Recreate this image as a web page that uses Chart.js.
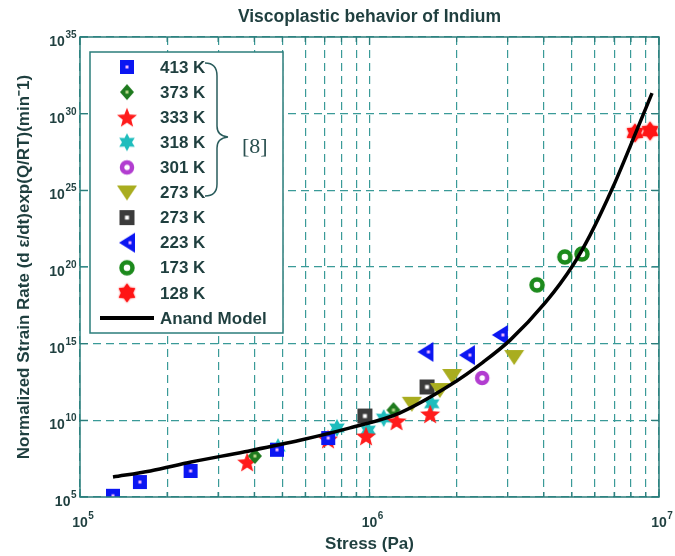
<!DOCTYPE html>
<html>
<head>
<meta charset="utf-8">
<script src="https://cdn.jsdelivr.net/npm/chart.js@4.4.1/dist/chart.umd.min.js"></script>
<style>
  html, body { margin: 0; padding: 0; background: #fff; }
</style>
</head>
<body>
<canvas id="indiumChart" width="675" height="556"></canvas>
<script>
// axis ticks
var stressTicks = [1e5, 2e5, 3e5, 4e5, 5e5, 6e5, 7e5, 8e5, 9e5,
                   1e6, 2e6, 3e6, 4e6, 5e6, 6e6, 7e6, 8e6, 9e6, 1e7];
var rateTicks = [1e5, 1e10, 1e15, 1e20, 1e25, 1e30, 1e35];

// measured creep points: stress (Pa) and normalized strain rate (1/min)
var s413 = [1.30e5, 1.61e5, 2.41e5, 4.79e5, 7.2e5];
var r413 = [1.2e5, 9.5e5, 5.0e6, 1.2e8, 7.0e8];
var s373 = [4.02e5, 1.21e6];
var r373 = [4.7e7, 4.7e10];
var s333 = [3.78e5, 7.19e5, 9.73e5, 1.24e6, 1.62e6];
var r333 = [1.9e7, 6.0e8, 9.5e8, 9.1e9, 2.6e10];
var s318 = [4.83e5, 7.72e5, 9.89e5, 1.12e6, 1.64e6];
var r318 = [1.8e8, 3.2e9, 2.3e9, 1.4e10, 1.2e11];
var s301 = [2.45e6];
var r301 = [5.8e12];
var s273 = [1.40e6, 1.75e6, 1.93e6, 3.16e6];
var r273 = [1.2e11, 9.5e11, 7.8e12, 1.35e14];
var s273b = [9.64e5, 1.58e6];
var r273b = [1.9e10, 1.5e12];
var s223 = [1.56e6, 2.17e6, 2.82e6];
var r223 = [2.9e14, 1.8e14, 3.7e15];
var s173 = [3.79e6, 4.73e6, 5.42e6];
var r173 = [6.8e18, 4.5e20, 7.1e20];
var s128 = [8.26e6, 9.31e6];
var r128 = [5.5e28, 7.4e28];

// Anand model curve
var modelStress = [1.30e5, 1.75e5, 2.42e5, 3.71e5, 5.75e5, 8.57e5, 1.27e6, 1.90e6,
                   2.47e6, 3.06e6, 4.04e6, 5.05e6, 5.78e6, 6.94e6, 8.39e6, 9.46e6];
var modelRate = [2.0e6, 5.0e6, 1.9e7, 9.0e7, 5.0e8, 3.2e9, 3.0e10, 2.0e12,
                 6.3e13, 1.7e15, 4.5e17, 1.35e20, 1.2e22, 1.7e25, 8.7e28, 2.2e31];

var textColor = '#1f3f3f';
var gridColor = '#3a9a98';
var boxColor = '#2b7d7b';
var sans = '"Liberation Sans", Arial, sans-serif';

// marker images (MATLAB-like thick markers)
function marker(w, h, paint) {
  var c = document.createElement('canvas');
  c.width = w; c.height = h;
  paint(c.getContext('2d'), w / 2, h / 2);
  return c;
}
function starPath(g, cx, cy, n, ro, ri) {
  g.beginPath();
  for (var i = 0; i < 2 * n; i++) {
    var r = i % 2 ? ri : ro;
    var a = -Math.PI / 2 + i * Math.PI / n;
    g.lineTo(cx + r * Math.cos(a), cy + r * Math.sin(a));
  }
  g.closePath();
}
function dot(g, cx, cy, color, s) {
  g.fillStyle = color;
  g.fillRect(cx - s / 2, cy - s / 2, s, s);
}

var mk413 = marker(16, 16, function (g, cx, cy) {
  g.fillStyle = '#0b16f2'; g.fillRect(1, 1, 14, 14); dot(g, cx, cy, '#f2b8ff', 3);
});
var mk373 = marker(16, 18, function (g, cx, cy) {
  g.fillStyle = '#1e7a1e';
  g.beginPath(); g.moveTo(cx, 1); g.lineTo(15, cy); g.lineTo(cx, 17); g.lineTo(1, cy); g.closePath(); g.fill();
  dot(g, cx, cy, '#b9d98a', 3);
});
var mk333 = marker(22, 22, function (g, cx, cy) {
  g.fillStyle = '#ff1c1c'; starPath(g, cx, cy + 1, 5, 10.5, 4.5); g.fill();
});
var mk318 = marker(20, 20, function (g, cx, cy) {
  g.fillStyle = '#1fbdbd'; starPath(g, cx, cy, 6, 9, 5); g.fill();
});
var mk301 = marker(18, 18, function (g, cx, cy) {
  g.strokeStyle = '#b23dd0'; g.lineWidth = 4.5;
  g.beginPath(); g.arc(cx, cy, 5, 0, 2 * Math.PI); g.stroke();
});
var mk273 = marker(22, 18, function (g, cx, cy) {
  g.fillStyle = '#a9ad1f';
  g.beginPath(); g.moveTo(1, 2); g.lineTo(21, 2); g.lineTo(cx, 17); g.closePath(); g.fill();
});
var mk273b = marker(17, 17, function (g, cx, cy) {
  g.fillStyle = '#3b3b3b'; g.fillRect(1, 1, 15, 15); dot(g, cx, cy, '#ffffff', 4);
});
var mk223 = marker(18, 22, function (g, cx, cy) {
  g.fillStyle = '#0b16f2';
  g.beginPath(); g.moveTo(1, cy); g.lineTo(17, 1); g.lineTo(17, 21); g.closePath(); g.fill();
  dot(g, cx + 3, cy, '#f2b8ff', 3);
});
var mk173 = marker(18, 18, function (g, cx, cy) {
  g.strokeStyle = '#1c8a1c'; g.lineWidth = 4.5;
  g.beginPath(); g.arc(cx, cy, 5.5, 0, 2 * Math.PI); g.stroke();
});
var mk128 = marker(22, 22, function (g, cx, cy) {
  g.fillStyle = '#ff1414'; g.shadowColor = '#ff1414'; g.shadowBlur = 2;
  starPath(g, cx, cy, 6, 9.5, 6); g.fill();
});

function pairs(xs, ys) {
  return xs.map(function (x, i) { return { x: x, y: ys[i] }; });
}
function pointSet(label, xs, ys, img) {
  return { label: label, data: pairs(xs, ys), pointStyle: img, pointRadius: 8,
           showLine: false, order: 1 };
}

var datasets = [
  pointSet('413 K', s413, r413, mk413),
  pointSet('373 K', s373, r373, mk373),
  pointSet('333 K', s333, r333, mk333),
  pointSet('318 K', s318, r318, mk318),
  pointSet('301 K', s301, r301, mk301),
  pointSet('273 K', s273, r273, mk273),
  pointSet('273 K', s273b, r273b, mk273b),
  pointSet('223 K', s223, r223, mk223),
  pointSet('173 K', s173, r173, mk173),
  pointSet('128 K', s128, r128, mk128),
  { label: 'Anand Model', data: pairs(modelStress, modelRate), showLine: true,
    borderColor: '#000', borderWidth: 3.5, pointRadius: 0,
    cubicInterpolationMode: 'monotone', order: 0 }
];

function isDecade(v) {
  var l = Math.log10(v);
  return Math.abs(l - Math.round(l)) < 1e-9;
}

// "10" with a raised exponent
function drawPower(ctx, exp, x, y, align) {
  ctx.font = 'bold 14px ' + sans;
  var wb = ctx.measureText('10').width;
  ctx.font = 'bold 10px ' + sans;
  var we = ctx.measureText(String(exp)).width;
  var left = align === 'right' ? x - wb - we : x - wb / 2;
  ctx.textAlign = 'left';
  ctx.textBaseline = 'alphabetic';
  ctx.font = 'bold 14px ' + sans;
  ctx.fillText('10', left, y);
  ctx.font = 'bold 10px ' + sans;
  ctx.fillText(String(exp), left + wb + 0.5, y - 8);
}

var decorations = {
  id: 'decorations',
  afterDraw: function (chart) {
    var ctx = chart.ctx, a = chart.chartArea;
    var xs = chart.scales.x, ys = chart.scales.y;
    ctx.save();

    // frame and inward ticks
    ctx.strokeStyle = boxColor;
    ctx.lineWidth = 1.5;
    ctx.strokeRect(a.left, a.top, a.right - a.left, a.bottom - a.top);
    ctx.lineWidth = 1.2;
    stressTicks.forEach(function (v) {
      var px = xs.getPixelForValue(v);
      var len = isDecade(v) ? 8 : 5;
      ctx.beginPath();
      ctx.moveTo(px, a.top); ctx.lineTo(px, a.top + len);
      ctx.moveTo(px, a.bottom); ctx.lineTo(px, a.bottom - len);
      ctx.stroke();
    });
    rateTicks.forEach(function (v) {
      var py = ys.getPixelForValue(v);
      ctx.beginPath();
      ctx.moveTo(a.left, py); ctx.lineTo(a.left + 8, py);
      ctx.moveTo(a.right, py); ctx.lineTo(a.right - 8, py);
      ctx.stroke();
    });

    // tick labels
    ctx.fillStyle = textColor;
    stressTicks.forEach(function (v) {
      if (!isDecade(v)) return;
      drawPower(ctx, Math.round(Math.log10(v)), xs.getPixelForValue(v), a.bottom + 30, 'center');
    });
    rateTicks.forEach(function (v) {
      drawPower(ctx, Math.round(Math.log10(v)), a.left - 4, ys.getPixelForValue(v) + 9, 'right');
    });

    // titles
    ctx.textAlign = 'center';
    ctx.textBaseline = 'middle';
    ctx.font = 'bold 17.5px ' + sans;
    ctx.fillText('Viscoplastic behavior of Indium', (a.left + a.right) / 2, 17);
    ctx.font = 'bold 17px ' + sans;
    ctx.fillText('Stress (Pa)', (a.left + a.right) / 2, 544);
    ctx.save();
    ctx.translate(24, (a.top + a.bottom) / 2);
    ctx.rotate(-Math.PI / 2);
    ctx.font = 'bold 17px ' + sans;
    ctx.fillText('Normalized Strain Rate (d \u03B5/dt)exp(Q/RT)(min\u207B1)', 0, 0);
    ctx.restore();

    // legend
    var lx = 90, ly = 52, lw = 193, lh = 281;
    ctx.fillStyle = '#fff';
    ctx.fillRect(lx, ly, lw, lh);
    ctx.strokeStyle = boxColor;
    ctx.lineWidth = 1.5;
    ctx.strokeRect(lx, ly, lw, lh);
    ctx.font = 'bold 17px ' + sans;
    ctx.textAlign = 'left';
    ctx.textBaseline = 'middle';
    chart.data.datasets.forEach(function (d, i) {
      var y = 67 + i * 25.1;
      if (d.showLine) {
        ctx.strokeStyle = '#000';
        ctx.lineWidth = 4;
        ctx.beginPath(); ctx.moveTo(100, y); ctx.lineTo(154, y); ctx.stroke();
      } else {
        ctx.drawImage(d.pointStyle, 127 - d.pointStyle.width / 2, y - d.pointStyle.height / 2);
      }
      ctx.fillStyle = textColor;
      ctx.fillText(d.label, 160, y + 1);
    });

    // brace grouping the reference data
    ctx.strokeStyle = '#2a5c5c';
    ctx.lineWidth = 1.5;
    ctx.beginPath();
    ctx.moveTo(205, 63);
    ctx.quadraticCurveTo(217, 63, 217, 76);
    ctx.lineTo(217, 126);
    ctx.quadraticCurveTo(217, 136, 228, 137);
    ctx.quadraticCurveTo(217, 138, 217, 148);
    ctx.lineTo(217, 184);
    ctx.quadraticCurveTo(217, 196, 205, 196);
    ctx.stroke();
    ctx.fillStyle = '#2a5050';
    ctx.font = '22px "Liberation Serif", "Times New Roman", serif';
    ctx.textBaseline = 'middle';
    ctx.fillText('[8]', 242, 147);

    ctx.restore();
  }
};

var ctx = document.getElementById('indiumChart').getContext('2d');
var indiumChart = new Chart(ctx, {
  type: 'scatter',
  data: { datasets: datasets },
  options: {
    responsive: false,
    animation: false,
    layout: { padding: { left: 80, top: 37, right: 16, bottom: 59 } },
    plugins: { legend: { display: false }, tooltip: { enabled: false } },
    scales: {
      x: {
        type: 'logarithmic', min: 1e5, max: 1e7,
        afterBuildTicks: function (s) { s.ticks = stressTicks.map(function (v) { return { value: v }; }); },
        ticks: { display: false },
        grid: { color: gridColor, lineWidth: 1.2, drawTicks: false },
        border: { display: false, dash: [8, 5] }
      },
      y: {
        type: 'logarithmic', min: 1e5, max: 1e35,
        afterBuildTicks: function (s) { s.ticks = rateTicks.map(function (v) { return { value: v }; }); },
        ticks: { display: false },
        grid: { color: gridColor, lineWidth: 1.2, drawTicks: false },
        border: { display: false, dash: [8, 5] }
      }
    }
  },
  plugins: [decorations]
});
</script>
</body>
</html>
